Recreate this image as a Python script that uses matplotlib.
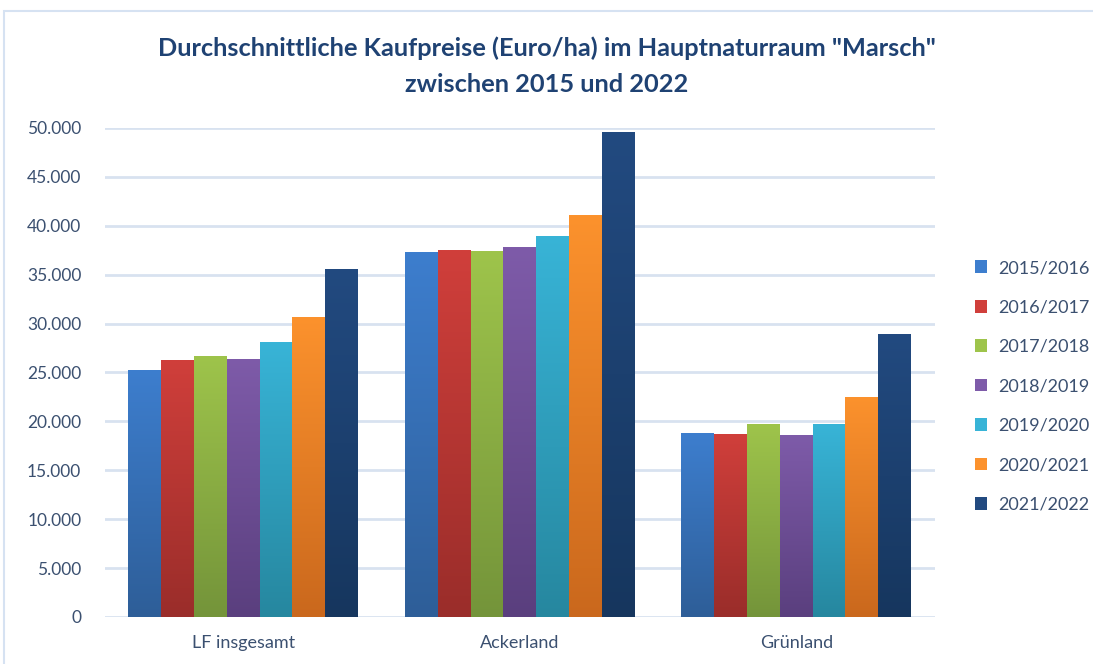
import numpy as np
import matplotlib
matplotlib.use("Agg")
import matplotlib.pyplot as plt
from matplotlib.colors import LinearSegmentedColormap
from matplotlib.patches import Rectangle, Patch
from matplotlib.ticker import FuncFormatter

plt.rcParams['font.family'] = ['Lato', 'DejaVu Sans']

categories = ['LF insgesamt', 'Ackerland', 'Grünland']
periods = ['2015/2016', '2016/2017', '2017/2018', '2018/2019',
           '2019/2020', '2020/2021', '2021/2022']
values = {
    '2015/2016': [25300, 37300, 18800],
    '2016/2017': [26300, 37500, 18700],
    '2017/2018': [26700, 37400, 19700],
    '2018/2019': [26400, 37800, 18600],
    '2019/2020': [28100, 39000, 19700],
    '2020/2021': [30700, 41100, 22500],
    '2021/2022': [35600, 49600, 28900],
}
# (top colour, bottom colour) of each gradient
colors = {
    '2015/2016': ('#3D7ECE', '#2E5E98'),
    '2016/2017': ('#D03F3B', '#9A2D2A'),
    '2017/2018': ('#9EC44B', '#74943A'),
    '2018/2019': ('#7E5BA9', '#5A3F7E'),
    '2019/2020': ('#38B4D7', '#26879F'),
    '2020/2021': ('#FC922D', '#CA681D'),
    '2021/2022': ('#224A80', '#16365E'),
}

fig = plt.figure(figsize=(10.93, 6.64), dpi=100)
ax = fig.add_axes([0.096, 0.0708, 0.759, 0.7365])

text_col = '#3B5070'
x = np.arange(len(categories))
group_w = 0.83
bw = group_w / len(periods)
grad = np.linspace(0, 1, 256).reshape(-1, 1)

for i, p in enumerate(periods):
    top, bottom = colors[p]
    cmap = LinearSegmentedColormap.from_list(p, [bottom, top])
    xs = x - group_w / 2 + bw * (i + 0.5)
    bars = ax.bar(xs, values[p], width=bw, color=top, edgecolor='none', zorder=2)
    for b in bars:
        x0, y0 = b.get_x(), b.get_y()
        w, h = b.get_width(), b.get_height()
        im = ax.imshow(grad, cmap=cmap, origin='lower', aspect='auto',
                       extent=[x0, x0 + w, y0, y0 + h], zorder=3)
        im.set_clip_path(b)

ax.set_xlim(-0.5, 2.5)
ax.set_ylim(0, 50000)
ax.set_yticks(np.arange(0, 50001, 5000))
ax.yaxis.set_major_formatter(FuncFormatter(lambda v, _: f'{int(v):,}'.replace(',', '.')))
ax.set_xticks(x)
ax.set_xticklabels(categories)
ax.grid(axis='y', color='#D8E2F0', linewidth=2, zorder=0)
ax.set_axisbelow(True)
for s in ax.spines.values():
    s.set_visible(False)
ax.tick_params(axis='x', length=0, labelsize=13, colors=text_col, pad=13)
ax.tick_params(axis='y', length=0, labelsize=12.5, colors=text_col, pad=17)

handles = [Patch(facecolor=colors[p][0], edgecolor='none') for p in periods]
fig.legend(handles, periods, loc='center left', bbox_to_anchor=(0.877, 0.418),
           frameon=False, fontsize=13, labelcolor=text_col,
           handlelength=0.7, handleheight=0.7, handletextpad=0.6, labelspacing=1.3)

fig.text(0.5, 0.927, 'Durchschnittliche Kaufpreise (Euro/ha) im Hauptnaturraum "Marsch"',
         ha='center', va='center', fontsize=18.3, fontweight='bold', color='#1F4273')
fig.text(0.5, 0.873, 'zwischen 2015 und 2022',
         ha='center', va='center', fontsize=18.3, fontweight='bold', color='#1F4273')

fig.add_artist(Rectangle((0.004, -0.01), 1.0, 0.994, transform=fig.transFigure,
                         fill=False, edgecolor='#D6E2F2', linewidth=1.5))

fig.savefig('out.png', dpi=100)
